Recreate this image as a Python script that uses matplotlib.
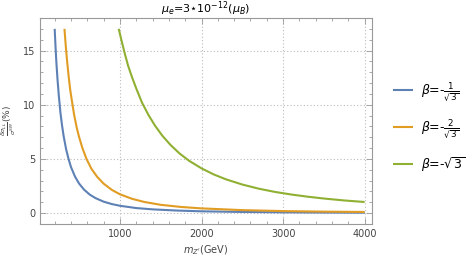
import numpy as np
import matplotlib
matplotlib.use("Agg")
import matplotlib.pyplot as plt
from matplotlib.ticker import MultipleLocator

# values (mZ in GeV, deviation in %)
mz_blue = [200, 210, 220, 235, 250, 270, 290, 310, 340, 370, 400, 450, 500, 560,
           630, 700, 800, 900, 1000, 1200, 1400, 1700, 2000, 2500, 3000, 3500, 4000]
dev_blue = [17.0, 15.4, 14.0, 12.3, 10.9, 9.3, 8.1, 7.1, 5.9, 5.0, 4.25, 3.36, 2.72, 2.17,
            1.71, 1.39, 1.06, 0.84, 0.68, 0.47, 0.35, 0.24, 0.17, 0.11, 0.076, 0.056, 0.043]

mz_orange = [320, 335, 350, 370, 390, 410, 440, 470, 500, 540, 590, 650, 720, 800,
             900, 1000, 1150, 1300, 1500, 1750, 2000, 2500, 3000, 3500, 4000]
dev_orange = [17.0, 15.5, 14.2, 12.7, 11.4, 10.4, 9.0, 7.9, 7.0, 6.0, 5.0, 4.1, 3.36, 2.72,
              2.15, 1.74, 1.32, 1.03, 0.77, 0.57, 0.44, 0.28, 0.19, 0.14, 0.11]

mz_green = [985, 1020, 1060, 1100, 1150, 1200, 1270, 1350, 1430, 1520, 1620, 1730, 1850,
            2000, 2150, 2300, 2500, 2700, 2900, 3100, 3300, 3500, 3750, 4000]
dev_green = [17.0, 15.9, 14.7, 13.6, 12.5, 11.5, 10.2, 9.05, 8.07, 7.14, 6.29, 5.51, 4.82,
             4.13, 3.57, 3.12, 2.64, 2.26, 1.96, 1.72, 1.52, 1.35, 1.17, 1.03]

labels = [r'$\beta$=-$\frac{1}{\sqrt{3}}$', r'$\beta$=-$\frac{2}{\sqrt{3}}$', r'$\beta$=-$\sqrt{3}$']
colors = ['#5E81B5', '#E19C24', '#8FB032']

fig = plt.figure(figsize=(4.72, 2.57), dpi=100)
ax = fig.add_axes([40 / 472, 1 - 224 / 257, 332 / 472, 206 / 257])

for x, y, c, lab in zip([mz_blue, mz_orange, mz_green], [dev_blue, dev_orange, dev_green], colors, labels):
    ax.plot(x, y, color=c, lw=1.5, label=lab, solid_capstyle='butt')

ax.set_xlim(20, 4090)
ax.set_ylim(-1, 18)
ax.xaxis.set_major_locator(MultipleLocator(1000))
ax.xaxis.set_minor_locator(MultipleLocator(200))
ax.yaxis.set_major_locator(MultipleLocator(5))
ax.yaxis.set_minor_locator(MultipleLocator(1))
ax.set_xticks([1000, 2000, 3000, 4000])
ax.grid(True, which='major', color='#bbbbbb', ls=(0, (1, 2)), lw=0.8)

for s in ax.spines.values():
    s.set_color('#999999')
    s.set_linewidth(0.8)
ax.tick_params(which='both', direction='in', top=True, right=True, color='#999999',
               labelsize=7, labelcolor='#444444', width=0.6)
ax.tick_params(which='major', length=4)
ax.tick_params(which='minor', length=2)

ax.set_title(r'$\mu_e$=3$\star$10$^{-12}$($\mu_B$)', fontsize=8, pad=4)
ax.set_xlabel(r"$m_{Z'}$(GeV)", fontsize=7, color='#444444')
ax.xaxis.set_label_coords(0.5, -0.095)
ax.set_ylabel(r'$\frac{\delta\sigma_{LL}}{\sigma^{SM}}$(%)', fontsize=6.5, color='#444444')
ax.yaxis.set_label_coords(-0.065, 0.5)

leg = ax.legend(loc='center left', bbox_to_anchor=(1.03, 0.47), frameon=False, fontsize=9,
                handlelength=1.6, labelspacing=1.1, handletextpad=0.6)

fig.savefig('out.png', dpi=100)
